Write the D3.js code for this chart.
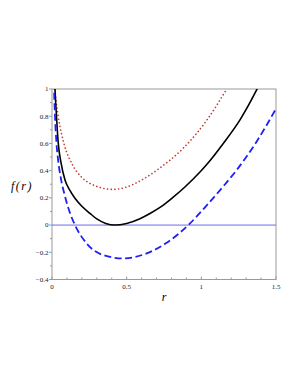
<!DOCTYPE html>
<html>
<head>
<meta charset="utf-8">
<script src="https://cdn.jsdelivr.net/npm/d3@7"></script>
<style>
  body { margin: 0; background: #fff; }
  text { font-family: "Liberation Serif", "DejaVu Serif", serif; }
</style>
</head>
<body>
<script>
// values
const rTicks = [0, 0.5, 1, 1.5];
const rTickLabels = ["0", "0.5", "1", "1.5"];
const fTicks = [-0.4, -0.2, 0, 0.2, 0.4, 0.6, 0.8, 1];
const fTickLabels = ["\u22120.4", "\u22120.2", "0", "0.2", "0.4", "0.6", "0.8", "1"];

const solidR = [0.016, 0.02, 0.03, 0.042, 0.06, 0.087, 0.12, 0.155, 0.2, 0.254, 0.3, 0.36, 0.42, 0.5, 0.589, 0.656, 0.75, 0.812, 0.89, 0.991, 1.036, 1.147, 1.26, 1.364, 1.4];
const solidF = [1.1, 1.0, 0.8, 0.6, 0.46, 0.331, 0.255, 0.195, 0.138, 0.086, 0.045, 0.012, 0, 0.012, 0.047, 0.085, 0.15, 0.205, 0.28, 0.39, 0.445, 0.6, 0.775, 0.98, 1.06];

const dotR = [0.018, 0.022, 0.042, 0.08, 0.139, 0.2, 0.277, 0.41, 0.5, 0.6, 0.723, 0.879, 1.036, 1.17];
const dotF = [1.05, 0.98, 0.8, 0.6, 0.44, 0.35, 0.294, 0.262, 0.28, 0.331, 0.42, 0.565, 0.77, 1.0];

const dashR = [0.012, 0.02, 0.03, 0.042, 0.06, 0.085, 0.12, 0.154, 0.232, 0.344, 0.478, 0.634, 0.768, 0.913, 1.036, 1.159, 1.237, 1.371, 1.5];
const dashF = [1.05, 0.8, 0.6, 0.47, 0.34, 0.22, 0.09, 0, -0.135, -0.221, -0.245, -0.208, -0.13, 0, 0.145, 0.3, 0.405, 0.615, 0.855];

const width = 300;
const height = 388;
const plotLeft = 52, plotRight = 276, plotTop = 89, plotBottom = 279.5;

const svg = d3.select("body").append("svg")
  .attr("width", width)
  .attr("height", height);

const x = d3.scaleLinear().domain([0, 1.5]).range([plotLeft, plotRight]);
const y = d3.scaleLinear().domain([-0.4, 1]).range([plotBottom, plotTop]);

svg.append("defs").append("clipPath").attr("id", "plot")
  .append("rect")
  .attr("x", plotLeft).attr("y", plotTop)
  .attr("width", plotRight - plotLeft).attr("height", plotBottom - plotTop);

// frame
svg.append("rect")
  .attr("x", plotLeft).attr("y", plotTop)
  .attr("width", plotRight - plotLeft).attr("height", plotBottom - plotTop)
  .attr("fill", "none")
  .attr("stroke", "#9a9a9a")
  .attr("stroke-width", 1);

// minor ticks
const minorX = d3.range(0, 1.51, 0.1);
svg.selectAll(".mx").data(minorX).enter().append("line")
  .attr("x1", function(d) { return x(d); })
  .attr("x2", function(d) { return x(d); })
  .attr("y1", plotBottom)
  .attr("y2", function(d, i) { return plotBottom - (i % 5 === 0 ? 3 : 2); })
  .attr("stroke", "#9a9a9a");

const minorY = d3.range(-0.4, 1.01, 0.1);
svg.selectAll(".my").data(minorY).enter().append("line")
  .attr("x1", plotLeft)
  .attr("x2", function(d, i) { return plotLeft - (i % 2 === 0 ? 3 : 2); })
  .attr("y1", function(d) { return y(d); })
  .attr("y2", function(d) { return y(d); })
  .attr("stroke", "#9a9a9a");

// tick labels
svg.selectAll(".xl").data(rTicks).enter().append("text")
  .attr("x", function(d) { return x(d); })
  .attr("y", plotBottom + 9.5)
  .attr("text-anchor", "middle")
  .attr("font-size", 7)
  .attr("fill", "#222")
  .text(function(d, i) { return rTickLabels[i]; });

svg.selectAll(".yl").data(fTicks).enter().append("text")
  .attr("x", plotLeft - 3.5)
  .attr("y", function(d) { return y(d) + 2.4; })
  .attr("text-anchor", "end")
  .attr("font-size", 7)
  .attr("fill", "#222")
  .text(function(d, i) { return fTickLabels[i]; });

// axis titles
svg.append("text")
  .attr("x", 22).attr("y", 190)
  .attr("text-anchor", "middle")
  .attr("font-size", 12)
  .attr("font-style", "italic")
  .attr("letter-spacing", 1.5)
  .text("f(r)");

svg.append("text")
  .attr("x", 164).attr("y", 301)
  .attr("text-anchor", "middle")
  .attr("font-size", 12)
  .attr("font-style", "italic")
  .text("r");

const plot = svg.append("g").attr("clip-path", "url(#plot)");

// f = 0 line
plot.append("line")
  .attr("x1", plotLeft).attr("x2", plotRight)
  .attr("y1", y(0)).attr("y2", y(0))
  .attr("stroke", "#6b6bee")
  .attr("stroke-width", 1);

const line = d3.line()
  .x(function(d) { return x(d[0]); })
  .y(function(d) { return y(d[1]); })
  .curve(d3.curveMonotoneX);

plot.append("path")
  .datum(d3.zip(dotR, dotF))
  .attr("d", line)
  .attr("fill", "none")
  .attr("stroke", "#c0392b")
  .attr("stroke-width", 1.6)
  .attr("stroke-linecap", "round")
  .attr("stroke-dasharray", "0.1,3.6");

plot.append("path")
  .datum(d3.zip(solidR, solidF))
  .attr("d", line)
  .attr("fill", "none")
  .attr("stroke", "#000")
  .attr("stroke-width", 1.6);

plot.append("path")
  .datum(d3.zip(dashR, dashF))
  .attr("d", line)
  .attr("fill", "none")
  .attr("stroke", "#1f1ff5")
  .attr("stroke-width", 1.8)
  .attr("stroke-dasharray", "7,3.5");
</script>
</body>
</html>
